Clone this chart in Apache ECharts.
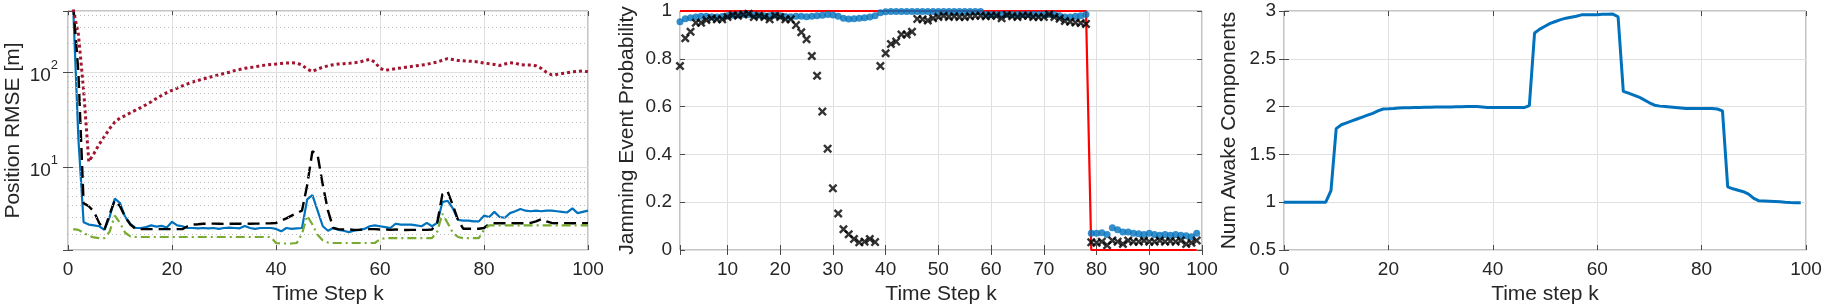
<!DOCTYPE html>
<html>
<head>
<meta charset="utf-8">
<script src="https://cdn.jsdelivr.net/npm/echarts@6/dist/echarts.min.js"></script>
<style>
html,body{margin:0;padding:0;background:#fff;}
#c{width:1827px;height:308px;}
</style>
</head>
<body>
<div id="c"></div>
<script>
// ---------------- DATA ----------------
// Panel 1: Position RMSE [m], time steps 1..100
const rmseSteps = Array.from({length: 100}, (_, i) => i + 1);
const rmseRed = [460,250,65,11.5,14,17.5,21,25.5,30,33,35,37.5,40,42.5,45.5,49,53,57,61,64.5,
  68,72,75.5,79,82,85,88,91,94,97,100,104,107,110,112,114,117,119,121,122,
  124,125,126,125,119,108,102,108,113,117,120,122,123,124,126,128,132,137,128,110,
  105,107,109,111,113,115,117,119,121,125,128,134,139,136,133,132,131,130,128,125,
  123,121,118,122,126,125,120,119,119,117,110,100,94,95,97,99,101,102,103,101];
const rmseBlue = [480,20,2.65,2.5,2.45,2.4,2.2,3.0,4.7,4.2,3.0,2.55,2.3,2.3,2.35,2.45,2.38,2.42,2.33,2.67,
  2.45,2.4,2.3,2.3,2.28,2.3,2.28,2.3,2.25,2.3,2.32,2.3,2.28,2.42,2.3,2.25,2.3,2.3,2.3,2.25,
  2.12,2.3,2.25,2.28,2.3,4.6,5.1,3.5,2.4,2.15,2.3,2.2,2.15,2.08,2.15,2.2,2.25,2.4,2.45,2.4,
  2.35,2.3,2.55,2.5,2.5,2.5,2.45,2.4,2.6,2.4,2.6,4.3,4.45,3.7,2.8,2.75,2.75,2.7,2.7,3.1,
  3.0,3.4,3.0,2.95,3.3,3.45,3.65,3.5,3.45,3.5,3.45,3.5,3.5,3.45,3.4,3.35,3.7,3.3,3.4,3.5];
const rmseBlack = [520,100,4.2,3.9,3.4,2.6,2.2,3.2,4.5,3.9,3.0,2.5,2.25,2.24,2.24,2.24,2.24,2.24,2.24,2.24,
  2.24,2.24,2.4,2.5,2.52,2.55,2.55,2.56,2.55,2.54,2.55,2.56,2.55,2.57,2.55,2.56,2.56,2.57,2.58,2.6,
  2.75,2.9,3.1,3.3,3.5,6.5,14.8,13.5,6.5,3.5,2.3,2.24,2.22,2.22,2.2,2.2,2.22,2.24,2.24,2.22,
  2.22,2.2,2.22,2.2,2.19,2.2,2.2,2.2,2.2,2.22,2.6,5.2,5.6,4.0,2.8,2.26,2.26,2.26,2.26,2.3,
  2.55,2.58,2.58,2.58,2.58,2.58,2.58,2.58,2.6,2.7,2.85,2.7,2.6,2.58,2.58,2.58,2.58,2.58,2.58,2.58];
const rmseGreen = [2.24,2.2,2.05,1.9,1.83,1.8,1.8,2.1,3.1,2.6,2.05,1.88,1.85,1.85,1.85,1.85,1.85,1.85,1.85,1.85,
  1.85,1.85,1.85,1.85,1.85,1.85,1.85,1.85,1.85,1.85,1.85,1.85,1.85,1.85,1.85,1.85,1.85,1.85,1.85,1.6,
  1.58,1.58,1.58,1.6,2.0,3.1,2.5,1.95,1.7,1.62,1.6,1.6,1.6,1.6,1.6,1.6,1.6,1.6,1.6,1.75,
  1.8,1.8,1.8,1.8,1.8,1.8,1.8,1.8,1.8,1.8,2.1,3.25,2.6,2.05,1.85,1.8,1.8,1.8,1.8,2.2,
  2.45,2.45,2.45,2.45,2.45,2.45,2.45,2.45,2.45,2.45,2.45,2.45,2.45,2.45,2.45,2.45,2.45,2.45,2.45,2.45];
const rmseMinorGrid = [2,3,4,5,6,7,8,9,20,30,40,50,60,70,80,90,200,300,400];
const rmseDecadeTicks = [10, 100];

// Panel 2: Jamming event probability, time steps 1..99
const jamSteps = Array.from({length: 99}, (_, i) => i + 1);
const jamTruth = [1,1,1,1,1,1,1,1,1,1,1,1,1,1,1,1,1,1,1,1,
  1,1,1,1,1,1,1,1,1,1,1,1,1,1,1,1,1,1,1,1,
  1,1,1,1,1,1,1,1,1,1,1,1,1,1,1,1,1,1,1,1,
  1,1,1,1,1,1,1,1,1,1,1,1,1,1,1,1,1,1,0,0,
  0,0,0,0,0,0,0,0,0,0,0,0,0,0,0,0,0,0,0];
const jamBlue = [0.955,0.968,0.972,0.975,0.978,0.978,0.976,0.975,0.977,0.98,0.982,0.983,0.985,0.985,0.983,0.982,0.98,0.98,0.982,0.98,
  0.977,0.976,0.978,0.978,0.976,0.978,0.98,0.982,0.985,0.983,0.978,0.97,0.967,0.968,0.97,0.972,0.975,0.98,0.993,0.997,
  0.998,0.998,0.998,0.998,0.998,0.998,0.998,0.998,0.998,0.998,0.998,0.998,0.998,0.998,0.998,0.998,0.998,0.998,0.985,0.985,
  0.985,0.985,0.985,0.985,0.985,0.985,0.985,0.985,0.985,0.985,0.985,0.985,0.98,0.975,0.975,0.978,0.98,0.985,0.07,0.07,
  0.072,0.065,0.093,0.085,0.075,0.075,0.07,0.068,0.065,0.07,0.065,0.062,0.065,0.062,0.065,0.062,0.06,0.055,0.07];
const jamBlack = [0.77,0.886,0.913,0.951,0.951,0.962,0.969,0.965,0.965,0.975,0.983,0.98,0.985,0.988,0.975,0.98,0.975,0.965,0.98,0.975,
  0.965,0.965,0.941,0.911,0.882,0.812,0.729,0.579,0.424,0.258,0.153,0.087,0.066,0.046,0.032,0.035,0.046,0.033,0.77,0.823,
  0.862,0.872,0.902,0.902,0.913,0.967,0.965,0.96,0.97,0.975,0.98,0.975,0.978,0.975,0.975,0.978,0.98,0.98,0.978,0.98,
  0.98,0.97,0.983,0.978,0.975,0.98,0.98,0.975,0.975,0.975,0.985,0.975,0.968,0.958,0.955,0.952,0.95,0.946,0.032,0.03,
  0.035,0.02,0.04,0.035,0.025,0.04,0.035,0.035,0.04,0.035,0.035,0.04,0.035,0.038,0.035,0.04,0.025,0.03,0.04];

// Panel 3: Num awake components, time steps 0..99
const awakeSteps = Array.from({length: 100}, (_, i) => i);
const awakeCount = [1,1,1,1,1,1,1,1,1,1.12,1.77,1.81,1.83,1.85,1.87,1.89,1.91,1.93,1.955,1.975,
  1.977,1.98,1.985,1.987,1.988,1.99,1.991,1.992,1.993,1.995,1.995,1.996,1.997,1.998,1.999,2.0,2.0,2.0,1.995,1.99,
  1.99,1.99,1.99,1.99,1.99,1.99,1.99,2.01,2.77,2.81,2.84,2.87,2.89,2.91,2.925,2.935,2.945,2.96,2.962,2.962,
  2.962,2.965,2.967,2.968,2.94,2.16,2.14,2.12,2.10,2.07,2.04,2.015,2.005,2.0,1.995,1.99,1.985,1.98,1.98,1.98,
  1.98,1.98,1.98,1.975,1.955,1.16,1.14,1.125,1.11,1.085,1.04,1.015,1.013,1.01,1.007,1.004,1.0,0.997,0.995,0.995];

// ---------------- STYLE ----------------
const FONT = '"Liberation Sans", Helvetica, Arial, sans-serif';
const TXT = '#262626';
const GRIDC = '#e0e0e0';
const TICKC = '#4a4a4a';
const TICK_FS = 19, NAME_FS = 21;
const MBLUE = '#0072BD', MRED = '#A2142F', MGREEN = '#77AC30';

const pairs = (xs, ys) => xs.map((x, i) => [x, ys[i]]);

const grids = [
  {left: 68, top: 11, width: 520, height: 239},
  {left: 680, top: 11, width: 522, height: 239},
  {left: 1284, top: 11, width: 522, height: 239}
].map(g => Object.assign(g, {show: true, borderColor: '#8a8a8a', borderWidth: 1, backgroundColor: '#fff', containLabel: false, outerBoundsMode: 'none'}));

const tick = {show: true, inside: true, length: 5, lineStyle: {color: TICKC, width: 1}};
const lbl = (extra) => Object.assign({color: TXT, fontSize: TICK_FS, fontFamily: FONT}, extra || {});
const nameStyle = {color: TXT, fontSize: NAME_FS, fontFamily: FONT};

function xPair(gi, scale, name) {
  const base = Object.assign({type: 'value', gridIndex: gi, axisLine: {show: false}, axisTick: tick}, scale);
  return [
    Object.assign({}, base, {position: 'bottom', name: name, nameLocation: 'middle', nameGap: 33, nameTextStyle: nameStyle,
      axisLabel: lbl(Object.assign({margin: 10}, scale.axisLabel || {})),
      splitLine: {show: true, lineStyle: {color: GRIDC, width: 1}}}),
    Object.assign({}, base, {position: 'top', axisLabel: {show: false}, splitLine: {show: false}})
  ];
}
function yPair(gi, scale, name, gap, labelExtra) {
  const base = Object.assign({gridIndex: gi, axisLine: {show: false}, axisTick: tick}, scale);
  return [
    Object.assign({}, base, {position: 'left', name: name, nameLocation: 'middle', nameRotate: 90, nameGap: gap, nameTextStyle: nameStyle,
      axisLabel: lbl(Object.assign({margin: 8}, labelExtra || {})),
      splitLine: {show: true, lineStyle: {color: GRIDC, width: 1}}}),
    Object.assign({}, base, {position: 'right', axisLabel: {show: false}, splitLine: {show: false}})
  ];
}

const isDecade = v => rmseDecadeTicks.some(d => Math.abs(v - d) / d < 1e-6);

const xAxes = [].concat(
  xPair(0, {min: 0, max: 100, interval: 20}, 'Time Step k'),
  xPair(1, {min: 1, max: 100, splitNumber: 10, axisLabel: {formatter: v => (Math.abs(v % 10) < 1e-9 ? String(v) : '')}}, 'Time Step k'),
  xPair(2, {min: 0, max: 100, interval: 20}, 'Time step k')
);
const yAxes = [].concat(
  yPair(0, {type: 'log', logBase: 10, min: 1.35, max: 441}, 'Position RMSE [m]', 44, {
    margin: 10,
    formatter: v => isDecade(v) ? '{b|10}{s|' + Math.round(Math.log10(v)) + '}' : '',
    rich: {
      b: {fontSize: TICK_FS, fontFamily: FONT, color: TXT, lineHeight: 26, verticalAlign: 'bottom'},
      s: {fontSize: 13, fontFamily: FONT, color: TXT, lineHeight: 13, verticalAlign: 'top'}
    }
  }),
  yPair(1, {type: 'value', min: 0, max: 1, interval: 0.2}, 'Jamming Event Probability', 42),
  yPair(2, {type: 'value', min: 0.5, max: 3, interval: 0.5}, 'Num Awake Components', 44)
);

const xMark = 'path://M0,1.9 L1.9,0 L5,3.1 L8.1,0 L10,1.9 L6.9,5 L10,8.1 L8.1,10 L5,6.9 L1.9,10 L0,8.1 L3.1,5 Z';

const series = [
  // panel 1 minor grid (dotted), drawn through the log axis
  {type: 'line', xAxisIndex: 0, yAxisIndex: 0, data: pairs(rmseSteps, rmseGreen), showSymbol: false, silent: true,
   lineStyle: {opacity: 0}, z: 1,
   markLine: {silent: true, symbol: ['none', 'none'], label: {show: false},
     lineStyle: {color: '#bdbdbd', type: [1, 3], width: 1},
     data: rmseMinorGrid.map(v => ({yAxis: v}))}},
  {type: 'line', xAxisIndex: 0, yAxisIndex: 0, data: pairs(rmseSteps, rmseBlue), showSymbol: false, z: 3,
   lineStyle: {color: MBLUE, width: 2.2}},
  {type: 'line', xAxisIndex: 0, yAxisIndex: 0, data: pairs(rmseSteps, rmseBlack), showSymbol: false, z: 4,
   lineStyle: {color: '#000', width: 2.4, type: [12, 6]}},
  {type: 'line', xAxisIndex: 0, yAxisIndex: 0, data: pairs(rmseSteps, rmseRed), showSymbol: false, z: 4,
   lineStyle: {color: MRED, width: 3, type: [3, 3]}},
  {type: 'line', xAxisIndex: 0, yAxisIndex: 0, data: pairs(rmseSteps, rmseGreen), showSymbol: false, z: 5,
   lineStyle: {color: MGREEN, width: 2.2, type: [9, 4, 2, 4]}},
  // panel 2
  {type: 'line', xAxisIndex: 2, yAxisIndex: 2, data: pairs(jamSteps, jamTruth), showSymbol: false, z: 2,
   lineStyle: {color: '#ff0000', width: 2.2}},
  {type: 'scatter', xAxisIndex: 2, yAxisIndex: 2, data: pairs(jamSteps, jamBlue), symbol: 'circle', symbolSize: 7, z: 3,
   itemStyle: {color: MBLUE}},
  {type: 'scatter', xAxisIndex: 2, yAxisIndex: 2, data: pairs(jamSteps, jamBlack), symbol: xMark, symbolSize: 9, z: 4,
   itemStyle: {color: '#000'}},
  // panel 3
  {type: 'line', xAxisIndex: 4, yAxisIndex: 4, data: pairs(awakeSteps, awakeCount), showSymbol: false, z: 3,
   lineStyle: {color: MBLUE, width: 3}}
];

const chart = echarts.init(document.getElementById('c'), null, {renderer: 'canvas'});
chart.setOption({
  animation: false,
  backgroundColor: '#fff',
  textStyle: {fontFamily: FONT},
  grid: grids,
  xAxis: xAxes,
  yAxis: yAxes,
  series: series
});
</script>
</body>
</html>
